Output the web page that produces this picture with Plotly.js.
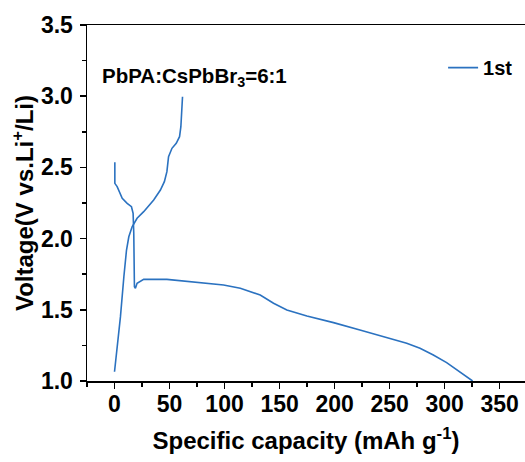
<!DOCTYPE html>
<html>
<head>
<meta charset="utf-8">
<script src="https://cdn.plot.ly/plotly-3.0.1.min.js"></script>
<style>html,body{margin:0;padding:0;background:#fff;}#chart{width:525px;height:462px;}</style>
</head>
<body>
<div id="chart"></div>
<script>
// Discharge branch (capacity, voltage)
const dischargeCapacity = [0.3, 0.3, 2.4, 7, 11.5, 15.4, 16.9, 17.5, 18.1, 19, 20.5, 26.5, 47.6, 71.9, 99.1, 114.3, 132.4, 144.5, 156.6, 174.8, 199, 223, 247.3, 265.5, 277.6, 289.7, 301.8, 313.9, 325.4];
const dischargeVoltage  = [2.536, 2.388, 2.365, 2.283, 2.248, 2.224, 2.177, 2.037, 1.662, 1.651, 1.686, 1.714, 1.714, 1.697, 1.674, 1.651, 1.604, 1.546, 1.499, 1.456, 1.41, 1.358, 1.307, 1.265, 1.23, 1.183, 1.129, 1.065, 1.0];
// Charge branch (capacity, voltage)
const chargeCapacity = [0, 2.4, 5.4, 8.5, 10.9, 13, 16, 20.5, 26.5, 35.6, 41.7, 45.3, 47.6, 49.1, 52.2, 56.1, 59.1, 60.3, 61.2, 61.8];
const chargeVoltage  = [1.065, 1.241, 1.452, 1.732, 1.92, 2.013, 2.083, 2.143, 2.189, 2.271, 2.341, 2.4, 2.47, 2.575, 2.634, 2.669, 2.716, 2.786, 2.903, 2.996];
const xTicks = [0, 50, 100, 150, 200, 250, 300, 350];
const yTicks = [1.0, 1.5, 2.0, 2.5, 3.0, 3.5];
const seriesName = '1st';

const x = dischargeCapacity.concat([null], chargeCapacity);
const y = dischargeVoltage.concat([null], chargeVoltage);
const lineColor = '#2b72c0';
const font = 'Arial, "Liberation Sans", sans-serif';

const trace = {
  x: x, y: y, type: 'scatter', mode: 'lines', name: seriesName,
  connectgaps: false,
  line: {color: lineColor, width: 1.6}
};

const layout = {
  width: 525, height: 462,
  margin: {l: 87, r: 0, t: 25, b: 81},
  paper_bgcolor: '#fff', plot_bgcolor: '#fff',
  font: {family: font, color: '#000'},
  showlegend: true,
  legend: {x: 0.813, y: 0.935, xanchor: 'left', yanchor: 'top', bgcolor: 'rgba(0,0,0,0)',
           font: {size: 20, family: font, weight: 'bold'}},
  xaxis: {
    range: [-25, 373], tickvals: xTicks, ticktext: xTicks.map(String),
    showgrid: false, zeroline: false, showline: true, linecolor: '#000', linewidth: 1.5,
    mirror: true, ticks: 'outside', ticklen: 6, tickwidth: 1.5, tickcolor: '#000',
    minor: {dtick: 25, tick0: 0, ticks: 'outside', ticklen: 4, tickwidth: 1.5, tickcolor: '#000'},
    tickfont: {size: 23, family: font, weight: 'bold'},
    ticklabelstandoff: -4,
    automargin: false,
    title: {text: 'Specific capacity (mAh g<sup>-1</sup>)', font: {size: 24, family: font, weight: 'bold'}, standoff: 16}
  },
  yaxis: {
    range: [1.0, 3.5], tickvals: yTicks, tickformat: '.1f',
    showgrid: false, zeroline: false, showline: true, linecolor: '#000', linewidth: 1.5,
    ticks: 'outside', ticklen: 6, tickwidth: 1.5, tickcolor: '#000',
    minor: {dtick: 0.25, tick0: 1.0, ticks: 'outside', ticklen: 4, tickwidth: 1.5, tickcolor: '#000'},
    tickfont: {size: 23, family: font, weight: 'bold'},
    ticklabelstandoff: 2,
    automargin: false,
    title: {text: 'Voltage(V vs.Li<sup>+</sup>/Li)', font: {size: 24, family: font, weight: 'bold'}, standoff: 0}
  },
  annotations: [{
    xref: 'paper', yref: 'paper', x: 0.03, y: 0.855, xanchor: 'left', yanchor: 'middle',
    text: 'PbPA:CsPbBr<sub>3</sub>=6:1', showarrow: false,
    font: {size: 20.5, family: font, weight: 'bold', color: '#000'}
  }]
};

Plotly.newPlot('chart', [trace], layout, {displayModeBar: false, staticPlot: true});
</script>
</body>
</html>
